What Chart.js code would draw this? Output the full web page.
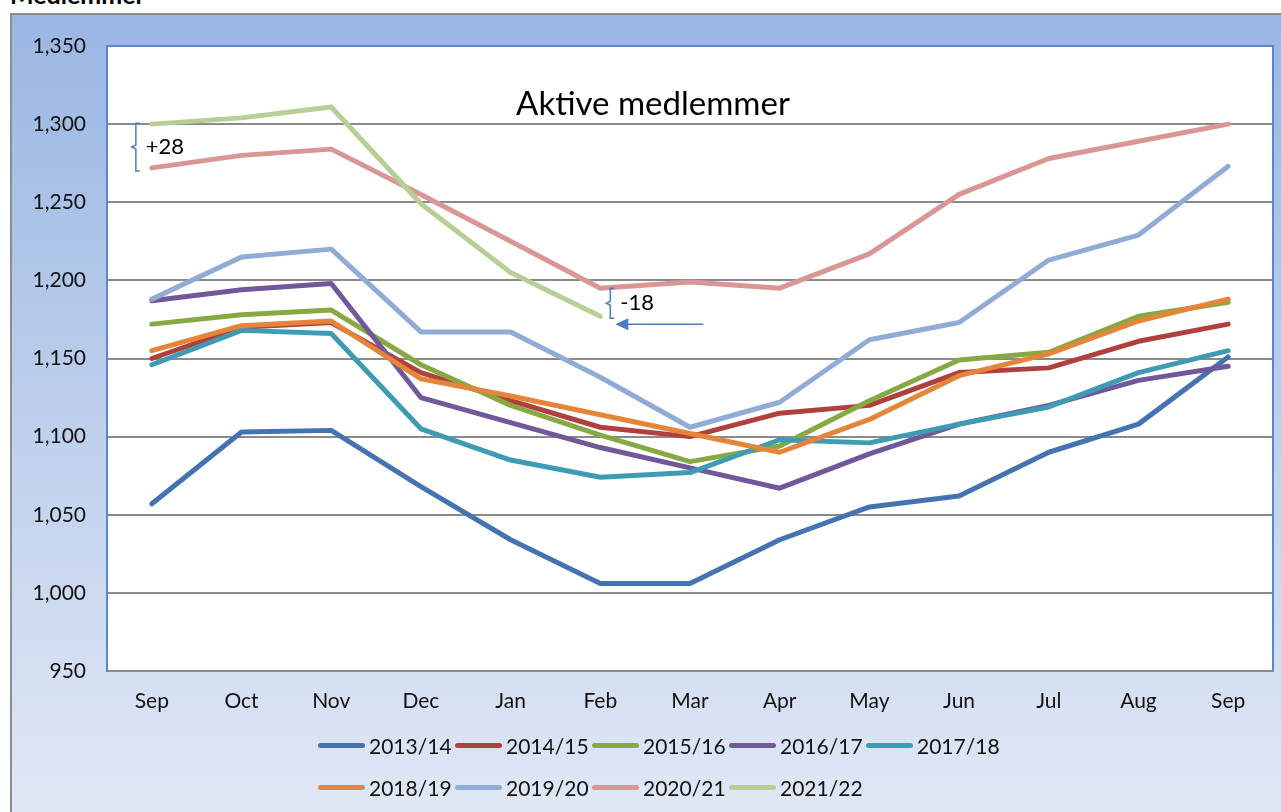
<!DOCTYPE html>
<html>
<head>
<meta charset="utf-8">
<script src="https://cdn.jsdelivr.net/npm/chart.js@4"></script>
<style>
  body { margin: 0; width: 1281px; height: 812px; overflow: hidden; background: #fff; font-family: Lato, sans-serif; position: relative; }
  #sheetTitle { position: absolute; left: 10px; top: -21px; font: bold 25px Lato, sans-serif; color: #000; }
  #box { position: absolute; left: 10px; top: 13px; width: 1290px; height: 820px; border-left: 2px solid #8c8c8c; border-top: 2px solid #8c8c8c;
         background: linear-gradient(#9ab6e3, #e2e9f5); }
  #wrap { position: absolute; left: 0; top: 0; width: 1281px; height: 812px; }
  #legend { position: absolute; left: 318px; top: 730px; width: 690px; display: flex; flex-wrap: wrap; row-gap: 12px; }
  .item { width: 137px; display: flex; align-items: center; height: 30px; font-size: 21px; color: #111; }
  .swatch { width: 47px; height: 5px; border-radius: 3px; margin-right: 4px; }
</style>
</head>
<body>
<div id="sheetTitle">Medlemmer</div>
<div id="box"></div>
<div id="wrap"><canvas id="myChart"></canvas></div>
<div id="legend"></div>
<script>
const months = ['Sep', 'Oct', 'Nov', 'Dec', 'Jan', 'Feb', 'Mar', 'Apr', 'May', 'Jun', 'Jul', 'Aug', 'Sep'];
const seasons = ['2013/14', '2014/15', '2015/16', '2016/17', '2017/18', '2018/19', '2019/20', '2020/21', '2021/22'];
const colors = ['#4573b1', '#b0403d', '#87a944', '#71589a', '#3d9cb4', '#e5853a', '#8fabd6', '#d99695', '#b7cf94'];

const s2013 = [1057, 1103, 1104, 1068, 1034, 1006, 1006, 1034, 1055, 1062, 1090, 1108, 1151];
const s2014 = [1150, 1170, 1173, 1141, 1123, 1106, 1100, 1115, 1120, 1141, 1144, 1161, 1172];
const s2015 = [1172, 1178, 1181, 1146, 1120, 1101, 1084, 1094, 1123, 1149, 1154, 1177, 1186];
const s2016 = [1187, 1194, 1198, 1125, 1109, 1093, 1080, 1067, 1089, 1108, 1120, 1136, 1145];
const s2017 = [1146, 1168, 1166, 1105, 1085, 1074, 1077, 1098, 1096, 1108, 1119, 1141, 1155];
const s2018 = [1155, 1171, 1174, 1137, 1126, 1114, 1102, 1090, 1111, 1139, 1153, 1174, 1188];
const s2019 = [1188, 1215, 1220, 1167, 1167, 1138, 1106, 1122, 1162, 1173, 1213, 1229, 1273];
const s2020 = [1272, 1280, 1284, 1255, 1225, 1195, 1199, 1195, 1217, 1255, 1278, 1289, 1300];
const s2021 = [1300, 1304, 1311, 1249, 1205, 1177, null, null, null, null, null, null, null];
const series = [s2013, s2014, s2015, s2016, s2017, s2018, s2019, s2020, s2021];

const yTicks = [950, 1000, 1050, 1100, 1150, 1200, 1250, 1300, 1350];

// white plot area, blue frame, inner title and the two brace notes
const plotDecor = {
    id: 'plotDecor',
    beforeDraw(chart) {
        const a = chart.chartArea, ctx = chart.ctx;
        ctx.save();
        ctx.fillStyle = '#ffffff';
        ctx.fillRect(a.left, a.top, a.right - a.left, a.bottom - a.top);
        ctx.restore();
    },
    beforeDatasetsDraw(chart) {
        const a = chart.chartArea, ctx = chart.ctx;
        ctx.save();
        ctx.strokeStyle = '#5b87c4';
        ctx.lineWidth = 2;
        ctx.beginPath();
        ctx.moveTo(a.left, a.top);
        ctx.lineTo(a.right, a.top);
        ctx.lineTo(a.right, a.bottom);
        ctx.stroke();
        ctx.fillStyle = '#000';
        ctx.font = '33px Lato';
        ctx.textAlign = 'center';
        ctx.textBaseline = 'alphabetic';
        ctx.fillText('Aktive medlemmer', 653, 115);
        ctx.restore();
    },
    afterDatasetsDraw(chart) {
        const x = chart.scales.x, y = chart.scales.y, ctx = chart.ctx;
        const brace = (bx, y1, y2, label) => {
            const mid = (y1 + y2) / 2;
            ctx.beginPath();
            ctx.moveTo(bx + 4, y1);
            ctx.lineTo(bx, y1);
            ctx.lineTo(bx, mid - 2);
            ctx.lineTo(bx - 4, mid);
            ctx.lineTo(bx, mid + 2);
            ctx.lineTo(bx, y2);
            ctx.lineTo(bx + 4, y2);
            ctx.stroke();
            ctx.fillText(label, bx + 10, mid);
        };
        ctx.save();
        ctx.strokeStyle = '#4a7ebb';
        ctx.fillStyle = '#000';
        ctx.lineWidth = 1.5;
        ctx.font = '22px Lato';
        ctx.textAlign = 'left';
        ctx.textBaseline = 'middle';
        const d1 = s2021[0] - s2020[0];
        const x0 = x.getPixelForValue(0);
        brace(x0 - 16, y.getPixelForValue(s2021[0]) - 1, y.getPixelForValue(s2020[0]) + 3, '+' + d1);
        const d2 = s2021[5] - s2020[5];
        const x5 = x.getPixelForValue(5);
        const yb = y.getPixelForValue(s2021[5]);
        brace(x5 + 10, y.getPixelForValue(s2020[5]), yb + 2, String(d2));
        // arrow
        const ay = yb + 8;
        ctx.beginPath();
        ctx.moveTo(x5 + 103, ay);
        ctx.lineTo(x5 + 26, ay);
        ctx.stroke();
        ctx.fillStyle = '#4a7ebb';
        ctx.beginPath();
        ctx.moveTo(x5 + 15, ay);
        ctx.lineTo(x5 + 28, ay - 6);
        ctx.lineTo(x5 + 28, ay + 6);
        ctx.closePath();
        ctx.fill();
        ctx.restore();
    }
};

const ctx = document.getElementById('myChart').getContext('2d');
const myChart = new Chart(ctx, {
    type: 'line',
    data: {
        labels: months,
        datasets: seasons.map((name, i) => ({
            label: name,
            data: series[i],
            borderColor: colors[i],
            backgroundColor: colors[i],
            borderWidth: 5,
            pointRadius: 0,
            tension: 0,
            borderCapStyle: 'round',
            borderJoinStyle: 'round',
            spanGaps: false,
            order: seasons.length - i
        }))
    },
    plugins: [plotDecor],
    options: {
        responsive: true,
        maintainAspectRatio: false,
        animation: false,
        layout: { padding: { left: 20, right: 8, top: 46, bottom: 91 } },
        scales: {
            x: {
                offset: true,
                grid: { display: false, drawTicks: false },
                border: { display: true, color: '#8a8a8a', width: 2 },
                ticks: { color: '#111', font: { family: 'Lato', size: 21 }, padding: 18, maxRotation: 0 },
                afterFit: (s) => { s.height = 50; }
            },
            y: {
                min: yTicks[0],
                max: yTicks[yTicks.length - 1],
                afterBuildTicks: (s) => { s.ticks = yTicks.map(v => ({ value: v })); },
                grid: { color: '#8a8a8a', lineWidth: 2, drawTicks: false },
                border: { display: true, color: '#5b87c4', width: 2 },
                ticks: {
                    color: '#111',
                    font: { family: 'Lato', size: 21 },
                    padding: 21,
                    callback: (v) => v.toLocaleString('en-US')
                },
                afterFit: (s) => { s.width = 87; }
            }
        },
        plugins: {
            legend: { display: false },
            tooltip: { enabled: false }
        }
    }
});

// legend in two rows, left aligned like the original
const legendEl = document.getElementById('legend');
seasons.forEach((name, i) => {
    const item = document.createElement('div');
    item.className = 'item';
    item.innerHTML = '<span class="swatch" style="background:' + colors[i] + '"></span><span>' + name + '</span>';
    legendEl.appendChild(item);
});
</script>
</body>
</html>
